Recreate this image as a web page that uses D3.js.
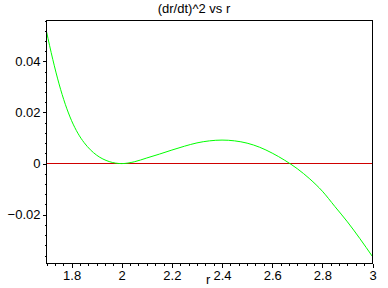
<!DOCTYPE html>
<html>
<head>
<meta charset="utf-8">
<script src="https://cdn.jsdelivr.net/npm/d3@7"></script>
<style>
    body { margin: 0; background: #fff; }
    svg { display: block; font-family: "Liberation Sans", Arial, sans-serif; }
</style>
</head>
<body>
<div class="chart"></div>
<script>
// values
const rValues = [1.70, 1.725, 1.75, 1.775, 1.80, 1.825, 1.85, 1.875, 1.90, 1.95,
    2.00, 2.05, 2.10, 2.15, 2.20, 2.25, 2.30, 2.35, 2.40, 2.45, 2.50, 2.55,
    2.60, 2.65, 2.70, 2.75, 2.80, 2.85, 2.90, 2.95, 3.00];
const drdt2Values = [0.0517, 0.0408, 0.0312, 0.0232, 0.0168, 0.0119, 0.0082, 0.0054, 0.0033, 0.0008,
    0.0000, 0.0007, 0.0022, 0.0037, 0.0053, 0.0068, 0.0081, 0.0089, 0.0092, 0.0089, 0.0080, 0.0064,
    0.0041, 0.0013, -0.0020, -0.0060, -0.0108, -0.0168, -0.0228, -0.0294, -0.0364];
const xTicks = [1.8, 2.0, 2.2, 2.4, 2.6, 2.8, 3.0];
const yTicks = [-0.02, 0, 0.02, 0.04];
const title = "(dr/dt)^2 vs r";
const xLabel = "r";

const width = 388, height = 288;
const margin = { top: 20, right: 16, bottom: 24, left: 46 };

const svg = d3.select(".chart").append("svg")
    .attr("width", width)
    .attr("height", height);

const x = d3.scaleLinear()
    .domain([1.7, 3.0])
    .range([margin.left + 0.5, width - margin.right + 0.5]);

const y = d3.scaleLinear()
    .domain([-0.0391, 0.0560])
    .range([height - margin.bottom - 0.5, margin.top + 0.5]);

// minor ticks
const xMinor = d3.range(1.7, 3.0001, 0.2 / 6);
const yMinor = d3.range(-0.036, 0.0561, 0.004);

svg.append("g")
    .attr("transform", `translate(0, ${y.range()[0]})`)
    .call(d3.axisBottom(x).tickValues(xMinor).tickSize(2).tickFormat(""))
    .call(g => g.select(".domain").remove());

svg.append("g")
    .attr("transform", `translate(${x.range()[0]}, 0)`)
    .call(d3.axisLeft(y).tickValues(yMinor).tickSize(2).tickFormat(""))
    .call(g => g.select(".domain").remove());

// major ticks + labels
svg.append("g")
    .attr("transform", `translate(0, ${y.range()[0]})`)
    .call(d3.axisBottom(x).tickValues(xTicks).tickSize(4).tickPadding(3).tickFormat(d3.format("")))
    .call(g => g.select(".domain").remove())
    .selectAll("text")
    .attr("font-size", 13)
    .attr("font-family", "Liberation Sans, Arial, sans-serif")
    .attr("fill", "#000");

svg.append("g")
    .attr("transform", `translate(${x.range()[0]}, 0)`)
    .call(d3.axisLeft(y).tickValues(yTicks).tickSize(4).tickPadding(2).tickFormat(d3.format("")))
    .call(g => g.select(".domain").remove())
    .selectAll("text")
    .attr("font-size", 13)
    .attr("font-family", "Liberation Sans, Arial, sans-serif")
    .attr("fill", "#000");

svg.selectAll(".tick line").attr("stroke", "#000").attr("shape-rendering", "crispEdges");

// zero line, snapped to the pixel grid
const y0 = Math.round(y(0) - 0.5) + 0.5;
svg.append("line")
    .attr("x1", x.range()[0])
    .attr("x2", x.range()[1])
    .attr("y1", y0)
    .attr("y2", y0)
    .attr("stroke", "#d00000");

// curve
const points = rValues.map((r, i) => [r, drdt2Values[i]]);
const line = d3.line()
    .x(d => x(d[0]))
    .y(d => y(d[1]))
    .curve(d3.curveMonotoneX);

svg.append("path")
    .datum(points)
    .attr("d", line)
    .attr("fill", "none")
    .attr("stroke", "#00ff00")
    .attr("stroke-width", 1);

// box
svg.append("rect")
    .attr("x", x.range()[0])
    .attr("y", y.range()[1])
    .attr("width", x.range()[1] - x.range()[0])
    .attr("height", y.range()[0] - y.range()[1])
    .attr("fill", "none")
    .attr("stroke", "#000");

svg.append("text")
    .attr("x", width / 2)
    .attr("y", 13)
    .attr("text-anchor", "middle")
    .attr("font-size", 13)
    .text(title);

svg.append("text")
    .attr("x", 206)
    .attr("y", 284)
    .attr("font-size", 13)
    .text(xLabel);
</script>
</body>
</html>
